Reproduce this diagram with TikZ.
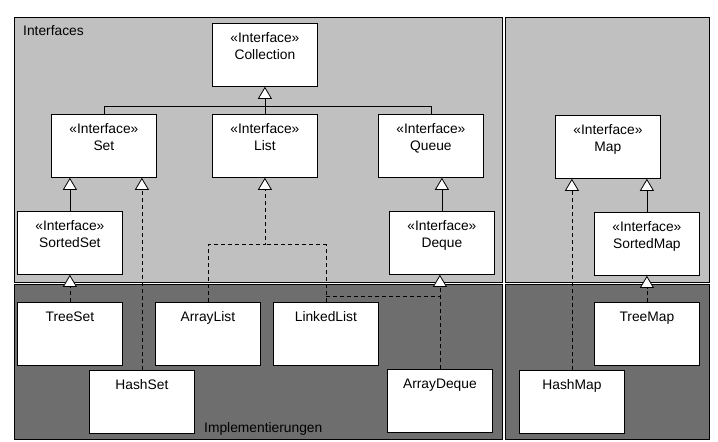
\documentclass[tikz,border=0pt]{standalone}
\usepackage{fontspec}
\setmainfont{Liberation Sans}
\usetikzlibrary{arrows.meta}
\definecolor{ifacebg}{RGB}{192, 192, 192}
\definecolor{implbg}{RGB}{110, 110, 110}

\begin{document}
\begin{tikzpicture}[x=1pt, y=-1pt,
    box/.style={draw, fill=white, line width=0.8pt, minimum width=105pt, minimum height=63pt, anchor=north west, inner sep=0pt},
    txt/.style={anchor=north, align=center, inner sep=0pt, yshift=-9.5pt, font=\fontsize{13.8}{17}\selectfont},
    dep/.style={line width=0.8pt, dash pattern=on 4pt off 3pt},
    gen/.style={line width=0.8pt, -{Triangle[length=12pt, width=14pt, fill=white]}},
    impl/.style={dep, -{Triangle[length=12pt, width=14pt, fill=white]}}]
    \useasboundingbox[fill=white] (0,0) rectangle (718,442);

    % Panels: interfaces above, implementations below
    \filldraw[fill=ifacebg, line width=0.8pt] (14,17) rectangle (502,282);
    \filldraw[fill=implbg, line width=0.8pt] (14,284) rectangle (502,439);
    \filldraw[fill=ifacebg, line width=0.8pt] (505,17) rectangle (709,282);
    \filldraw[fill=implbg, line width=0.8pt] (505,284) rectangle (709,439);
    \node[anchor=base west, inner sep=0pt, font=\fontsize{13.8}{17}\selectfont] (iflabel) at (23,35) {Interfaces};
    \node[anchor=base west, inner sep=0pt, font=\fontsize{13.8}{17}\selectfont] (impllabel) at (204,432) {Implementierungen};

    % Interfaces
    \node[box, label={[txt]north:{«Interface»\\Collection}}] (coll) at (212,23) {};
    \node[box, label={[txt]north:{«Interface»\\Set}}] (set) at (51,114) {};
    \node[box, label={[txt]north:{«Interface»\\List}}] (list) at (212,114) {};
    \node[box, label={[txt]north:{«Interface»\\Queue}}] (queue) at (378,114) {};
    \node[box, label={[txt]north:{«Interface»\\SortedSet}}] (sortedset) at (17,211) {};
    \node[box, label={[txt]north:{«Interface»\\Deque}}] (deque) at (389,211) {};
    \node[box, label={[txt]north:{«Interface»\\Map}}] (map) at (555,115) {};
    \node[box, label={[txt]north:{«Interface»\\SortedMap}}] (sortedmap) at (594,212) {};

    % Implementations
    \node[box, label={[txt]north:TreeSet}] (treeset) at (17,302) {};
    \node[box, label={[txt]north:ArrayList}] (arraylist) at (155,302) {};
    \node[box, label={[txt]north:LinkedList}] (linkedlist) at (273,302) {};
    \node[box, label={[txt]north:HashSet}] (hashset) at (89,370) {};
    \node[box, label={[txt]north:ArrayDeque}] (arraydeque) at (387,369) {};
    \node[box, label={[txt]north:TreeMap}] (treemap) at (594,302) {};
    \node[box, label={[txt]north:HashMap}] (hashmap) at (519,370) {};

    % Collection hierarchy
    \coordinate (bus) at ([yshift=-20pt]coll.south);
    \draw[line width=0.8pt] (set.north) |- (bus) -| (queue.north);
    \draw[gen] (list.north) -- (coll.south);
    \draw[gen] (sortedset.north) -- (sortedset.north |- set.south);
    \draw[gen] (deque.north) -- (deque.north |- queue.south);
    \draw[impl] (treeset.north) -- (sortedset.south);
    \draw[impl] (hashset.north) -- (hashset.north |- set.south);

    % List and Deque
    \coordinate (listjoin) at ([yshift=-67pt]list.south);
    \coordinate (dequejoin) at ([yshift=6pt]linkedlist.north);
    \draw[impl] (arraylist.north) |- (listjoin) -- (list.south);
    \draw[dep] (linkedlist.north) |- (listjoin);
    \draw[dep] (dequejoin) -- (dequejoin -| arraydeque.north);
    \draw[impl] (arraydeque.north) -- (arraydeque.north |- deque.south);

    % Map hierarchy
    \draw[gen] (sortedmap.north) -- (sortedmap.north |- map.south);
    \draw[impl] (hashmap.north) -- (hashmap.north |- map.south);
    \draw[impl] (treemap.north) -- (sortedmap.south);
\end{tikzpicture}
\end{document}
